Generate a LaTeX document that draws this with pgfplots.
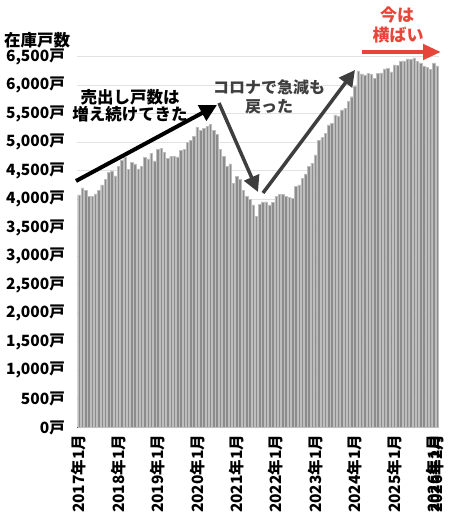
\documentclass[border=0pt]{standalone}
\usepackage{pgfplots}
\pgfplotsset{compat=1.18}
\usepackage{fontspec}
\setmainfont{Noto Sans CJK JP}
\usetikzlibrary{arrows.meta}
\definecolor{barfill}{RGB}{140,140,140}
\definecolor{baredge}{RGB}{190,190,190}
\definecolor{gridc}{RGB}{226,226,226}
\definecolor{noteg}{RGB}{62,62,62}
\definecolor{notered}{RGB}{232,69,58}

% 在庫戸数, 2017年1月 (0) .. 2026年2月 (109)
\pgfplotstableread{
m v
0 4075
1 4200
2 4150
3 4045
4 4055
5 4095
6 4150
7 4250
8 4350
9 4470
10 4495
11 4410
12 4580
13 4690
14 4730
15 4525
16 4645
17 4620
18 4530
19 4570
20 4735
21 4705
22 4800
23 4670
24 4870
25 4890
26 4815
27 4720
28 4750
29 4750
30 4740
31 4855
32 4870
33 4995
34 5030
35 5100
36 5260
37 5205
38 5245
39 5275
40 5310
41 5210
42 5130
43 4870
44 4745
45 4570
46 4620
47 4280
48 4400
49 4345
50 4150
51 4050
52 3995
53 3900
54 3700
55 3910
56 3955
57 3955
58 3900
59 3940
60 4045
61 4090
62 4085
63 4055
64 4035
65 4015
66 4230
67 4250
68 4365
69 4445
70 4580
71 4630
72 4775
73 5035
74 5080
75 5155
76 5300
77 5330
78 5475
79 5460
80 5565
81 5595
82 5710
83 5795
84 5985
85 6250
86 6195
87 6180
88 6200
89 6190
90 6120
91 6205
92 6215
93 6285
94 6290
95 6230
96 6355
97 6345
98 6410
99 6425
100 6460
101 6450
102 6475
103 6420
104 6390
105 6335
106 6310
107 6275
108 6390
109 6335
}\stock

\begin{document}
\begin{tikzpicture}[x=1bp,y=1bp]
\useasboundingbox (0,0) rectangle (450,520);
\begin{axis}[
  at={(77bp,92.5bp)}, anchor=south west, scale only axis,
  width=362bp, height=371bp,
  xmin=-0.6, xmax=109.6, ymin=0, ymax=6500,
  ybar, bar width=2.5bp,
  axis x line*=bottom, axis y line*=left,
  x axis line style={draw={rgb,255:red,85;green,85;blue,85}, line width=1.5bp},
  y axis line style={draw=none},
  major tick length=0pt,
  ymajorgrids, grid style={gridc, line width=1bp},
  ytick={0,500,...,6500},
  scaled y ticks=false,
  /pgf/number format/.cd, 1000 sep={,}, assume math mode=true, /pgfplots/.cd,
  yticklabel={\pgfmathprintnumber{\tick}戸},
  yticklabel shift=12bp,
  yticklabel style={font=\bfseries\fontsize{15.5bp}{16bp}\selectfont, inner sep=0pt, anchor=east},
  xtick={0,12,24,36,48,60,72,84,96,108,109},
  xticklabels={2017年1月,2018年1月,2019年1月,2020年1月,2021年1月,2022年1月,2023年1月,2024年1月,2025年1月,2026年1月,2026年2月},
  xticklabel shift=7bp,
  xticklabel style={font=\bfseries\fontsize{15.5bp}{16bp}\selectfont, inner sep=0pt, rotate=90, anchor=east},
]
\addplot[fill=barfill, draw=baredge, line width=0.4bp] table[x=m, y=v] {\stock};
\end{axis}

\node[anchor=west, inner sep=0pt, font=\bfseries\fontsize{16.5bp}{17bp}\selectfont] at (4,480) {在庫戸数};

% 売出し
\draw[line width=4bp, black, -{Triangle[length=17bp,width=17bp]}] (76,339) -- (217,415);
\node[font=\bfseries\fontsize{16.5bp}{17bp}\selectfont, inner sep=0pt] at (130,423) {売出し戸数は};
\node[font=\bfseries\fontsize{16.5bp}{17bp}\selectfont, inner sep=0pt] at (130,406) {増え続けてきた};

% コロナ
\draw[line width=3.5bp, noteg, -{Triangle[length=16bp,width=16bp]}] (219,417) -- (258,328);
\draw[line width=3.5bp, noteg, -{Triangle[length=16bp,width=16bp]}] (263,327) -- (355,450);
\node[text=noteg, font=\bfseries\fontsize{16bp}{17bp}\selectfont, inner sep=0pt] at (269,433) {コロナで急減も};
\node[text=noteg, font=\bfseries\fontsize{16bp}{17bp}\selectfont, inner sep=0pt] at (269,413) {戻った};

% 今は横ばい
\draw[line width=4.5bp, notered, -{Triangle[length=18bp,width=15bp]}] (362,468) -- (441,468);
\node[text=notered, font=\bfseries\fontsize{17bp}{18bp}\selectfont, inner sep=0pt] at (397,505) {今は};
\node[text=notered, font=\bfseries\fontsize{17bp}{18bp}\selectfont, inner sep=0pt] at (398,485) {横ばい};
\end{tikzpicture}
\end{document}
